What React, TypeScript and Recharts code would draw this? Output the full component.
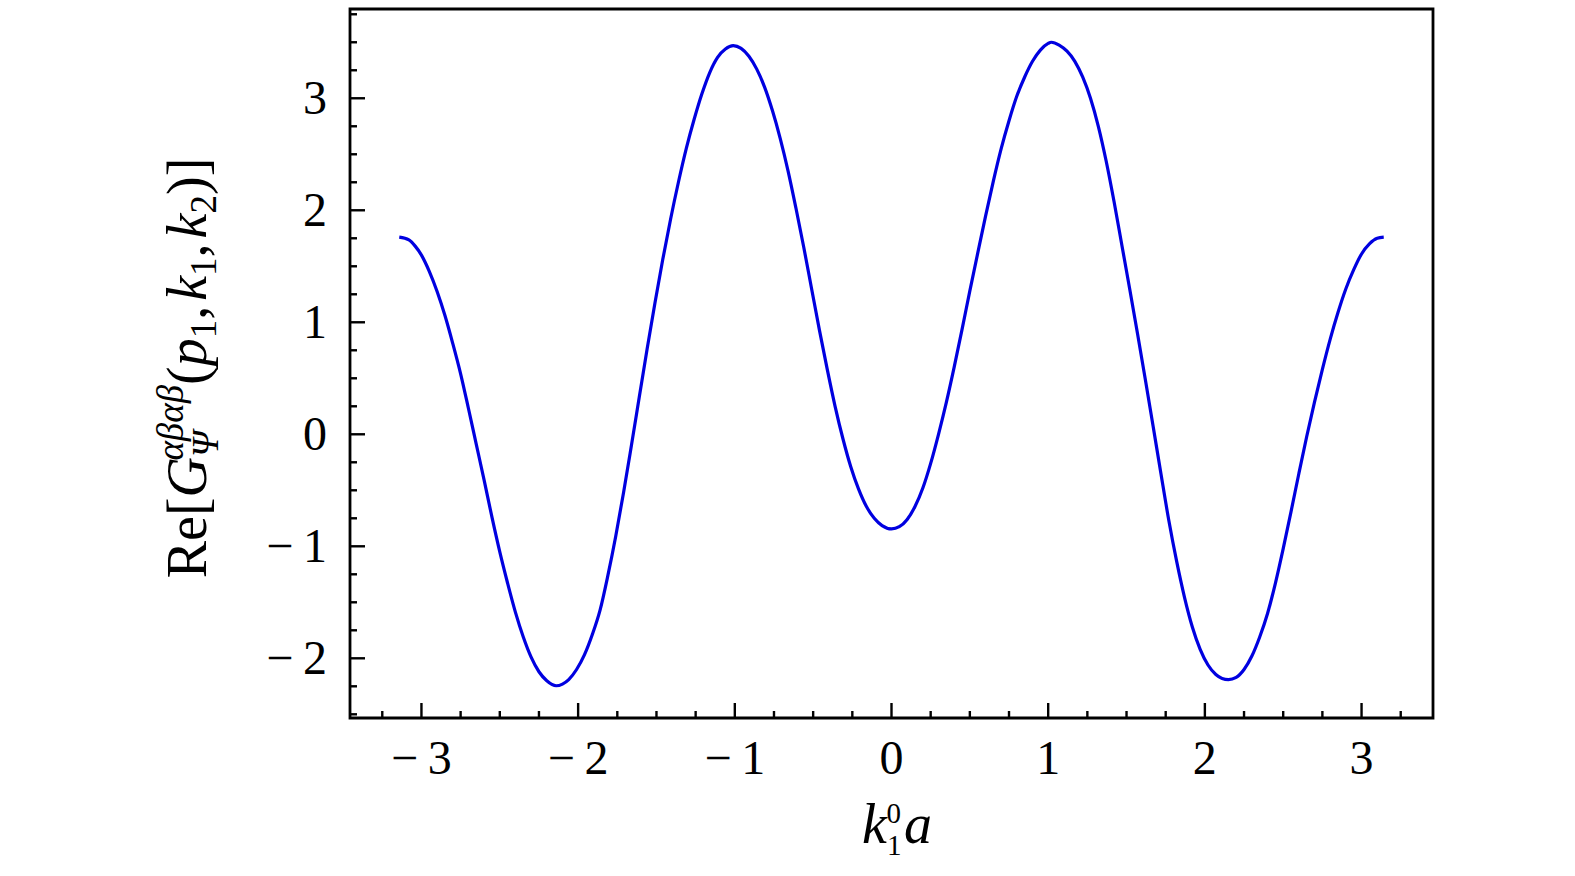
import React from "react";
import { Line, LineChart, ReferenceArea, XAxis, YAxis } from "recharts";

// k1^0 a  (x) and Re[G] (y)
const kx = [
  -3.1416, -3.08, -3.04, -3.0, -2.95, -2.9, -2.85, -2.8, -2.75, -2.7, -2.65,
  -2.6, -2.55, -2.5, -2.45, -2.4, -2.35, -2.3, -2.25, -2.2, -2.14, -2.1, -2.06,
  -2.01, -1.96, -1.91, -1.86, -1.81, -1.76, -1.71, -1.66, -1.61, -1.56, -1.51,
  -1.46, -1.41, -1.36, -1.31, -1.26, -1.21, -1.16, -1.11, -1.06, -1.01, -0.96,
  -0.91, -0.86, -0.81, -0.76, -0.71, -0.66, -0.61, -0.56, -0.51, -0.46, -0.41,
  -0.36, -0.31, -0.26, -0.21, -0.16, -0.11, -0.06, 0, 0.05, 0.1, 0.15, 0.2,
  0.25, 0.3, 0.35, 0.4, 0.45, 0.5, 0.55, 0.6, 0.65, 0.7, 0.75, 0.8, 0.85, 0.9,
  0.95, 1.0, 1.02, 1.07, 1.12, 1.17, 1.22, 1.27, 1.32, 1.37, 1.42, 1.47, 1.52,
  1.57, 1.62, 1.67, 1.72, 1.77, 1.82, 1.87, 1.92, 1.97, 2.02, 2.07, 2.11, 2.15,
  2.2, 2.25, 2.3, 2.35, 2.4, 2.45, 2.5, 2.55, 2.6, 2.65, 2.7, 2.75, 2.8, 2.85,
  2.9, 2.95, 3.0, 3.05, 3.1, 3.1416,
];
const reG = [
  1.76, 1.735, 1.68, 1.6, 1.455, 1.275, 1.06, 0.81, 0.54, 0.23, -0.09, -0.41,
  -0.74, -1.05, -1.33, -1.59, -1.81, -1.99, -2.12, -2.2, -2.245, -2.23, -2.19,
  -2.1, -1.97, -1.79, -1.57, -1.26, -0.91, -0.52, -0.1, 0.33, 0.76, 1.17, 1.56,
  1.92, 2.25, 2.55, 2.81, 3.04, 3.23, 3.365, 3.44, 3.47, 3.445, 3.375, 3.26,
  3.1, 2.89, 2.64, 2.35, 2.02, 1.67, 1.3, 0.93, 0.58, 0.25, -0.04, -0.29, -0.49,
  -0.645, -0.75, -0.815, -0.845, -0.825, -0.76, -0.645, -0.48, -0.26, 0.0,
  0.285, 0.6, 0.935, 1.28, 1.615, 1.945, 2.26, 2.55, 2.8, 3.02, 3.19, 3.33,
  3.43, 3.49, 3.5, 3.475, 3.42, 3.33, 3.19, 3.0, 2.75, 2.44, 2.08, 1.69, 1.3,
  0.9, 0.49, 0.07, -0.355, -0.77, -1.135, -1.455, -1.72, -1.92, -2.06, -2.145,
  -2.18, -2.19, -2.17, -2.1, -1.98, -1.81, -1.6, -1.33, -1.02, -0.69, -0.35,
  -0.02, 0.29, 0.58, 0.85, 1.09, 1.3, 1.47, 1.61, 1.7, 1.75, 1.76,
];

const xTicks = [
  -3.25, -3, -2.75, -2.5, -2.25, -2, -1.75, -1.5, -1.25, -1, -0.75, -0.5,
  -0.25, 0, 0.25, 0.5, 0.75, 1, 1.25, 1.5, 1.75, 2, 2.25, 2.5, 2.75, 3, 3.25,
];
const yTicks = [
  -2.5, -2.25, -2, -1.75, -1.5, -1.25, -1, -0.75, -0.5, -0.25, 0, 0.25, 0.5,
  0.75, 1, 1.25, 1.5, 1.75, 2, 2.25, 2.5, 2.75, 3, 3.25, 3.5, 3.75,
];

const data = kx.map((k, i) => ({ k, re: reG[i] }));

const X_DOMAIN: [number, number] = [-3.456, 3.456];
const Y_DOMAIN: [number, number] = [-2.533, 3.797];

const FONT = "'Liberation Serif', 'DejaVu Serif', serif";
const FS = 48;
const TITLE = 56;
const SMALL = 37;

const fmt = (v: number) => (v < 0 ? `\u2212\u2009${Math.abs(v)}` : `${v}`);

const XTick = (props: any) => {
  const { x, y, payload } = props;
  const major = Number.isInteger(payload.value);
  return (
    <g>
      <line x1={x} x2={x} y1={y} y2={y - (major ? 15 : 7)} stroke="#000" strokeWidth={2.4} />
      {major && (
        <text x={x} y={y + 56} textAnchor="middle" fontFamily={FONT} fontSize={FS} fill="#000">
          {fmt(payload.value)}
        </text>
      )}
    </g>
  );
};

const YTick = (props: any) => {
  const { x, y, payload } = props;
  const major = Number.isInteger(payload.value);
  return (
    <g>
      <line x1={x} x2={x + (major ? 15 : 7)} y1={y} y2={y} stroke="#000" strokeWidth={2.4} />
      {major && (
        <text x={x - 23} y={y + 16} textAnchor="end" fontFamily={FONT} fontSize={FS} fill="#000">
          {fmt(payload.value)}
        </text>
      )}
    </g>
  );
};

const XTitle = () => (
  <text x={897} y={843} textAnchor="middle" fontFamily={FONT} fontSize={TITLE} fill="#000">
    <tspan fontStyle="italic">k</tspan>
    <tspan fontSize={29} dy={12}>1</tspan>
    <tspan fontSize={29} dx={-15} dy={-32}>0</tspan>
    <tspan fontStyle="italic" dx={3} dy={20}>a</tspan>
  </text>
);

const YTitle = () => (
  <text
    x={0}
    y={0}
    transform="translate(206,368) rotate(-90)"
    textAnchor="middle"
    fontFamily={FONT}
    fontSize={TITLE}
    fill="#000"
  >
    <tspan>Re[</tspan>
    <tspan fontStyle="italic">G</tspan>
    <tspan fontStyle="italic" fontSize={SMALL} dy={12}>Ψ</tspan>
    <tspan fontStyle="italic" fontSize={SMALL} dx={-28} dy={-35}>αβαβ</tspan>
    <tspan dy={23}>(</tspan>
    <tspan fontStyle="italic">p</tspan>
    <tspan fontSize={SMALL} dy={10}>1</tspan>
    <tspan dy={-10}>,</tspan>
    <tspan fontStyle="italic" dx={5}>k</tspan>
    <tspan fontSize={SMALL} dy={10}>1</tspan>
    <tspan dy={-10}>,</tspan>
    <tspan fontStyle="italic" dx={5}>k</tspan>
    <tspan fontSize={SMALL} dy={10}>2</tspan>
    <tspan dy={-10}>)]</tspan>
  </text>
);

export default function App() {
  return (
    <div style={{ position: "absolute", left: 0, top: 0, background: "#fff" }}>
      <LineChart
        width={1575}
        height={876}
        data={data}
        margin={{ top: 9, right: 142, bottom: 98, left: 250 }}
      >
        <XAxis
          dataKey="k"
          type="number"
          domain={X_DOMAIN}
          allowDataOverflow
          ticks={xTicks}
          interval={0}
          axisLine={false}
          tickLine={false}
          tickSize={0}
          tickMargin={0}
          height={60}
          tick={<XTick />}
        />
        <YAxis
          type="number"
          domain={Y_DOMAIN}
          allowDataOverflow
          ticks={yTicks}
          interval={0}
          axisLine={false}
          tickLine={false}
          tickSize={0}
          tickMargin={0}
          width={100}
          tick={<YTick />}
        />
        <ReferenceArea
          x1={X_DOMAIN[0]}
          x2={X_DOMAIN[1]}
          y1={Y_DOMAIN[0]}
          y2={Y_DOMAIN[1]}
          fill="none"
          fillOpacity={0}
          stroke="#000"
          strokeWidth={2.8}
          ifOverflow="extendDomain"
        />
        <Line
          dataKey="re"
          type="monotone"
          stroke="#0000e0"
          strokeWidth={3.2}
          dot={false}
          isAnimationActive={false}
        />
        <XTitle />
        <YTitle />
      </LineChart>
    </div>
  );
}
